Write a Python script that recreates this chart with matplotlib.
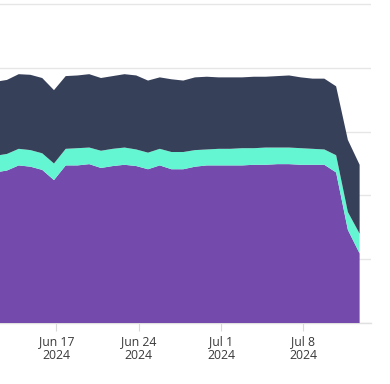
import matplotlib
matplotlib.use("Agg")
import matplotlib.pyplot as plt
import matplotlib.dates as mdates
import numpy as np
import pandas as pd

# Daily values, Jun 12 - Jul 13 2024 (stacked: bottom, middle, top)
start_date = "2024-06-12"
purple_vals = [2.36, 2.39, 2.47, 2.45, 2.40, 2.24, 2.47, 2.47, 2.49, 2.43, 2.46, 2.48,
               2.46, 2.41, 2.47, 2.41, 2.41, 2.45, 2.47, 2.47, 2.47, 2.47, 2.48, 2.48,
               2.49, 2.49, 2.48, 2.48, 2.48, 2.36, 1.46, 1.09]
teal_vals = [0.26, 0.26, 0.26, 0.26, 0.26, 0.26, 0.26, 0.27, 0.26, 0.27, 0.27, 0.27,
             0.26, 0.26, 0.26, 0.27, 0.27, 0.26, 0.25, 0.26, 0.26, 0.27, 0.26, 0.27,
             0.26, 0.26, 0.26, 0.25, 0.24, 0.27, 0.28, 0.31]
navy_vals = [1.16, 1.16, 1.17, 1.18, 1.18, 1.15, 1.14, 1.14, 1.15, 1.14, 1.14, 1.15,
             1.16, 1.13, 1.12, 1.14, 1.12, 1.14, 1.14, 1.12, 1.12, 1.11, 1.12, 1.11,
             1.12, 1.13, 1.11, 1.10, 1.11, 1.08, 1.13, 1.08]

colors = ['#744aad', '#64f6d2', '#374059']

# timestamps are UTC midnight, shown in local time (UTC-5)
dates = pd.date_range(start_date, periods=len(purple_vals), freq="D") - pd.Timedelta(hours=5)

fig = plt.figure(figsize=(3.9, 3.84), dpi=100)
ax = fig.add_axes([0.0, (384 - 323) / 384, 371 / 390, (323 - 2) / 384])

ax.stackplot(dates, purple_vals, teal_vals, navy_vals, colors=colors, linewidth=0, zorder=3)

ax.set_ylim(0, 5 * 321 / 319)
ax.set_yticks([0, 1, 2, 3, 4, 5])
ax.yaxis.grid(True, color='#e6e6e6', linewidth=1.0, zorder=0)
ax.tick_params(axis='y', left=False, labelleft=False)

ax.set_xlim(pd.Timestamp("2024-06-17") - pd.Timedelta(days=4.8),
            pd.Timestamp("2024-07-08") + pd.Timedelta(days=5.76))
ax.xaxis.set_major_locator(mdates.WeekdayLocator(byweekday=mdates.MO))
ax.xaxis.set_major_formatter(mdates.DateFormatter('%b %-d\n%Y'))
ax.tick_params(axis='x', length=6, width=0.8, color='#d9d9d9', pad=2.5,
               labelsize=8.8, labelcolor='#3a3a3a')
for lab in ax.get_xticklabels():
    lab.set_family('Open Sans')
    lab.set_linespacing(1.15)

for side in ['left', 'right', 'top']:
    ax.spines[side].set_visible(False)
ax.spines['bottom'].set_color('#e0e0e0')
ax.spines['bottom'].set_linewidth(1.0)
ax.set_facecolor('white')

fig.savefig("out.png", dpi=100)
